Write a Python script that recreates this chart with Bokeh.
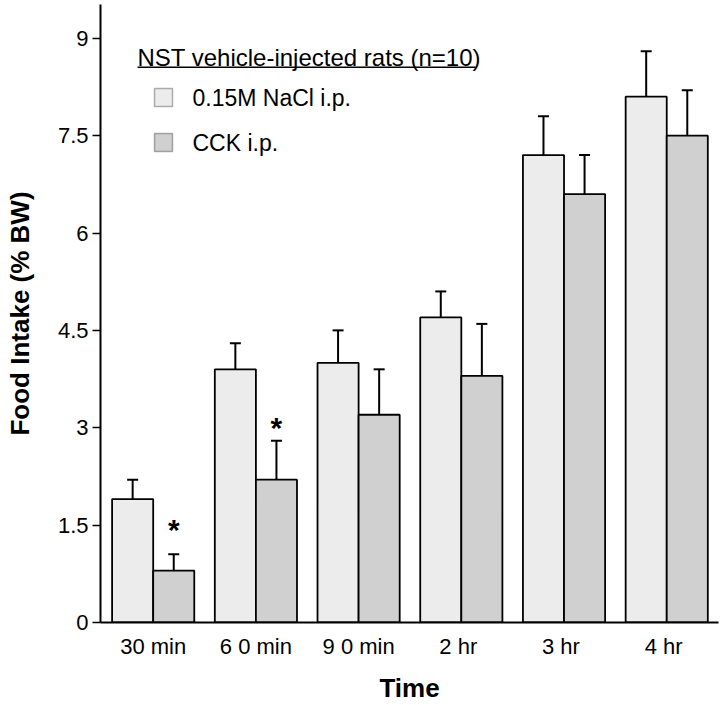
from bokeh.plotting import figure
from bokeh.models import (Range1d, FixedTicker, ColumnDataSource, Whisker, TeeHead,
                          Label, BoxAnnotation)
from bokeh.transform import dodge
from bokeh.core.properties import value
from bokeh.embed import file_html
from bokeh.resources import INLINE

# ---- data ----
time_labels = ["30 min", "6 0 min", "9 0 min", "2  hr", "3  hr", "4  hr"]
nacl_mean = [1.9, 3.9, 4.0, 4.7, 7.2, 8.1]
nacl_upper = [2.2, 4.3, 4.5, 5.1, 7.8, 8.8]
cck_mean = [0.8, 2.2, 3.2, 3.8, 6.6, 7.5]
cck_upper = [1.05, 2.8, 3.9, 4.6, 7.2, 8.2]
sig_index = [0, 1]          # groups with significant difference
sig_y = [1.44, 3.01]        # asterisk heights
y_ticks = [0, 1.5, 3, 4.5, 6, 7.5, 9]
y_tick_labels = ["0", "1.5", "3", "4.5", "6", "7.5", "9"]

FONT = "Liberation Sans"
NACL_COLOR = "#ececec"
CCK_COLOR = "#d0d0d0"

idx = list(range(len(time_labels)))
src = ColumnDataSource(dict(x=idx, nacl=nacl_mean, nacl_up=nacl_upper,
                            cck=cck_mean, cck_up=cck_upper))

p = figure(width=720, height=705, output_backend="svg", toolbar_location=None,
           x_range=Range1d(-0.513, 5.504), y_range=Range1d(0, 9.52),
           min_border_left=100, min_border_right=2, min_border_top=4,
           min_border_bottom=83)
p.outline_line_color = None
p.grid.visible = False
p.background_fill_color = "white"

p.vbar(x=dodge("x", -0.2, range=p.x_range), top="nacl", width=0.4, bottom=0,
       source=src, fill_color=NACL_COLOR, line_color="black", line_width=1.8)
p.vbar(x=dodge("x", 0.2, range=p.x_range), top="cck", width=0.4, bottom=0,
       source=src, fill_color=CCK_COLOR, line_color="black", line_width=1.8)

for col_low, col_up, off in (("nacl", "nacl_up", -0.2), ("cck", "cck_up", 0.2)):
    w = Whisker(base=dodge("x", off, range=p.x_range), lower=col_low, upper=col_up,
                source=src, dimension="height", line_width=2, line_color="black",
                upper_head=TeeHead(size=11, line_width=2, line_color="black"),
                lower_head=None)
    p.add_layout(w)

# significance asterisks
p.text(x=dodge("xi", 0.2, range=p.x_range), y="y", text=value("*"),
       source=ColumnDataSource(dict(xi=sig_index, y=sig_y)),
       text_font=value(FONT), text_font_style="bold", text_font_size="30px",
       text_align="center", text_baseline="alphabetic", text_color="black")

# axes
xa = p.xaxis[0]
xa.ticker = FixedTicker(ticks=idx)
xa.major_label_overrides = {i: t for i, t in zip(idx, time_labels)}
xa.major_tick_line_color = None
xa.minor_tick_line_color = None
xa.axis_line_width = 2
xa.major_label_text_font = FONT
xa.major_label_text_font_size = "22px"
xa.major_label_text_color = "black"
xa.major_label_standoff = 5
xa.axis_label = "Time"
xa.axis_label_text_font = FONT
xa.axis_label_text_font_size = "26px"
xa.axis_label_text_font_style = "bold"
xa.axis_label_text_color = "black"
xa.axis_label_text_line_height = 1.0
xa.axis_label_standoff = 11

ya = p.yaxis[0]
ya.ticker = FixedTicker(ticks=y_ticks)
ya.major_label_overrides = {t: l for t, l in zip(y_ticks, y_tick_labels)}
ya.minor_tick_line_color = None
ya.major_tick_out = 8
ya.major_tick_in = 0
ya.major_tick_line_width = 1.5
ya.axis_line_width = 2
ya.major_label_text_font = FONT
ya.major_label_text_font_size = "22px"
ya.major_label_text_color = "black"
ya.major_label_standoff = 4
ya.axis_label = "Food Intake (% BW)"
ya.axis_label_text_font = FONT
ya.axis_label_text_font_size = "26px"
ya.axis_label_text_font_style = "bold"
ya.axis_label_text_color = "black"
ya.axis_label_text_line_height = 0.8
ya.axis_label_standoff = 20

# legend (manual, screen units from the frame's bottom-left)
p.add_layout(Label(x=37, y=565, x_units="screen", y_units="screen",
                   text="NST vehicle-injected rats (n=10)", text_font=FONT,
                   text_font_size="24px", text_baseline="middle", text_color="black"))
p.add_layout(BoxAnnotation(left=37, right=375, bottom=554.5, top=556,
                           left_units="screen", right_units="screen",
                           bottom_units="screen", top_units="screen",
                           fill_color="black", fill_alpha=1, line_color=None))
for (name, color, yc) in (("0.15M NaCl i.p.", NACL_COLOR, 525), ("CCK i.p.", CCK_COLOR, 480)):
    p.add_layout(BoxAnnotation(left=54, right=72, bottom=yc - 9, top=yc + 9,
                               left_units="screen", right_units="screen",
                               bottom_units="screen", top_units="screen",
                               fill_color=color, fill_alpha=1, line_color="black",
                               line_width=1.5))
    p.add_layout(Label(x=92, y=yc, x_units="screen", y_units="screen", text=name,
                       text_font=FONT, text_font_size="23px", text_baseline="middle",
                       text_color="black"))

open("out.html", "w").write(file_html(p, INLINE))
